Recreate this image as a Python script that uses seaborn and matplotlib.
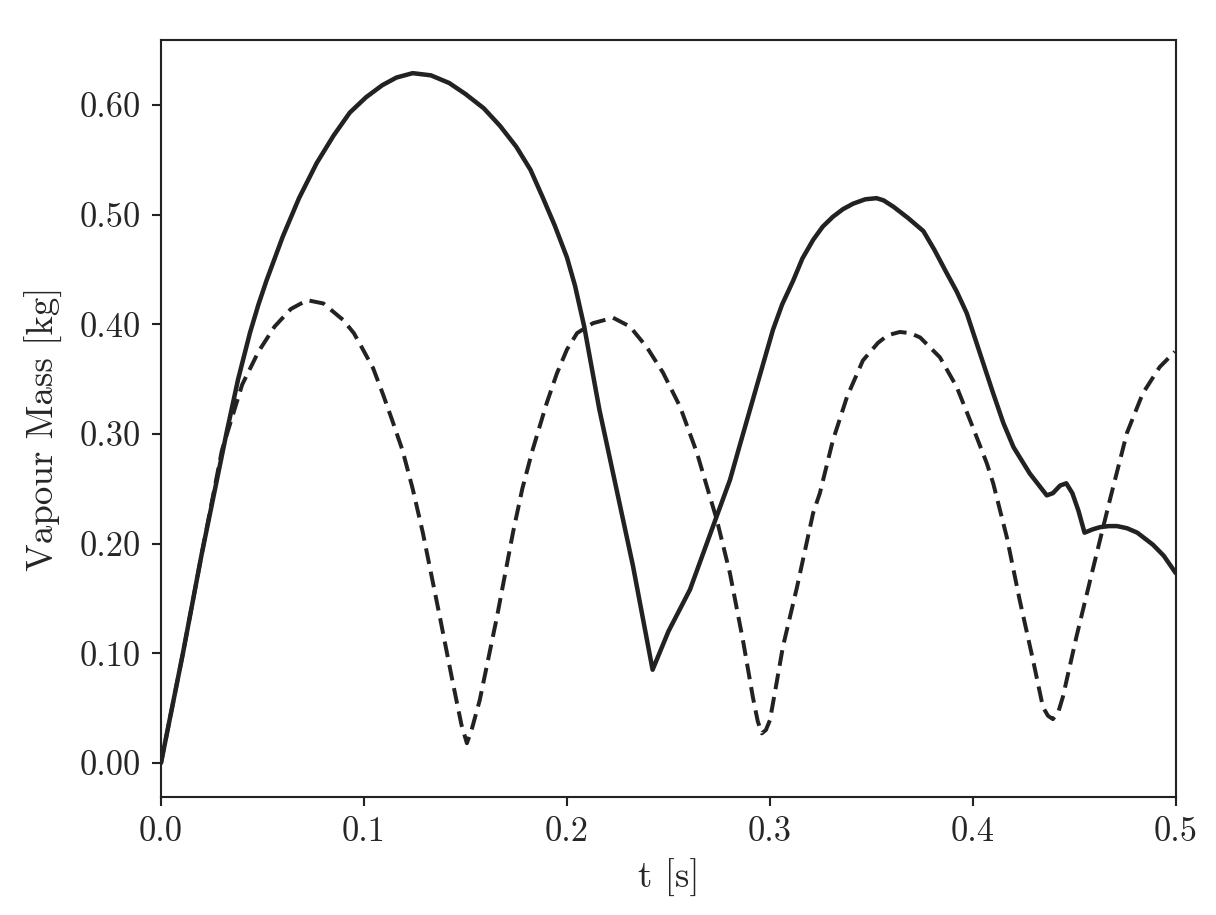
import numpy as np
import pandas as pd
import matplotlib
matplotlib.use("Agg")
import matplotlib.pyplot as plt
import seaborn as sns

# Solid curve (vapour mass, case A)
t_solid = [0.0, 0.0108, 0.02, 0.0324, 0.038, 0.0438, 0.048, 0.052, 0.060,
           0.068, 0.0767, 0.085, 0.093, 0.101, 0.109, 0.116, 0.124, 0.133,
           0.142, 0.150, 0.159, 0.167, 0.175, 0.182, 0.188, 0.194, 0.200,
           0.204, 0.2085, 0.216, 0.226, 0.2325, 0.2422, 0.250, 0.2606, 0.2737,
           0.2803, 0.2852, 0.2934, 0.3015, 0.306, 0.3115, 0.316, 0.3213,
           0.326, 0.331, 0.336, 0.341, 0.347, 0.3525, 0.356, 0.361, 0.368,
           0.3756, 0.381, 0.387, 0.392, 0.397, 0.4034, 0.41, 0.415, 0.42,
           0.428, 0.4364, 0.4394, 0.443, 0.446, 0.449, 0.452, 0.455, 0.459,
           0.4626, 0.467, 0.471, 0.476, 0.481, 0.4887, 0.494, 0.5]
m_solid = [0.0, 0.10, 0.19, 0.302, 0.35, 0.392, 0.418, 0.44, 0.48,
           0.515, 0.547, 0.572, 0.593, 0.607, 0.618, 0.625, 0.629, 0.627,
           0.62, 0.61, 0.597, 0.581, 0.562, 0.541, 0.516, 0.49, 0.461,
           0.435, 0.398, 0.322, 0.236, 0.18, 0.085, 0.12, 0.158, 0.2246,
           0.258, 0.29, 0.343, 0.395, 0.418, 0.44, 0.46, 0.477,
           0.489, 0.498, 0.505, 0.510, 0.514, 0.515, 0.513, 0.507, 0.497,
           0.485, 0.468, 0.447, 0.43, 0.41, 0.374, 0.337, 0.31, 0.288,
           0.264, 0.244, 0.246, 0.253, 0.255, 0.246, 0.23, 0.21, 0.213,
           0.215, 0.216, 0.216, 0.214, 0.21, 0.199, 0.189, 0.173]

# Dashed curve (vapour mass, case B)
t_dash = [0.0, 0.0108, 0.02, 0.03, 0.04, 0.048, 0.056, 0.064, 0.072, 0.080,
          0.0897, 0.095, 0.0995, 0.1045, 0.1094, 0.114, 0.119, 0.124, 0.129,
          0.1374, 0.1438, 0.148, 0.1507, 0.153, 0.157, 0.1655, 0.1734, 0.178,
          0.183, 0.190, 0.195, 0.200, 0.205, 0.2128, 0.2227, 0.231, 0.2394,
          0.2473, 0.2557, 0.264, 0.2704, 0.2738, 0.2803, 0.2867, 0.2916,
          0.294, 0.296, 0.298, 0.300, 0.303, 0.3064, 0.3133, 0.3213, 0.3246,
          0.331, 0.338, 0.3458, 0.3532, 0.358, 0.364, 0.369, 0.374, 0.3837,
          0.392, 0.400, 0.4069, 0.41, 0.4167, 0.423, 0.4296, 0.4345, 0.437,
          0.4394, 0.442, 0.4443, 0.451, 0.459, 0.4675, 0.4759, 0.4837, 0.492,
          0.4995]
m_dash = [0.0, 0.10, 0.19, 0.285, 0.345, 0.375, 0.398, 0.414, 0.422, 0.419,
          0.404, 0.392, 0.377, 0.36, 0.336, 0.312, 0.285, 0.25, 0.21,
          0.133, 0.073, 0.035, 0.018, 0.03, 0.057, 0.133, 0.21, 0.25,
          0.285, 0.328, 0.355, 0.377, 0.392, 0.401, 0.406, 0.398, 0.379,
          0.356, 0.325, 0.283, 0.243, 0.222, 0.173, 0.112, 0.06,
          0.038, 0.027, 0.03, 0.039, 0.07, 0.106, 0.16, 0.228, 0.246,
          0.294, 0.334, 0.367, 0.383, 0.39, 0.393, 0.392, 0.388, 0.37,
          0.343, 0.306, 0.273, 0.255, 0.206, 0.149, 0.094, 0.051, 0.043,
          0.040, 0.046, 0.06, 0.115, 0.176, 0.24, 0.301, 0.337, 0.361,
          0.375]

x_ticks = [0.0, 0.1, 0.2, 0.3, 0.4, 0.5]
y_ticks = [0.0, 0.1, 0.2, 0.3, 0.4, 0.5, 0.6]

sns.set_style("ticks")
plt.rcParams["font.family"] = ["cmr10", "DejaVu Serif"]
plt.rcParams["axes.formatter.use_mathtext"] = True
plt.rcParams["axes.unicode_minus"] = False

df_solid = pd.DataFrame({"t": t_solid, "m": m_solid})
df_dash = pd.DataFrame({"t": t_dash, "m": m_dash})

fig = plt.figure(figsize=(1216 / 190, 915 / 190), dpi=190)
ax = fig.add_axes([0.1324, 0.129, 0.8346, 0.827])

line_color = "#222222"
sns.lineplot(data=df_solid, x="t", y="m", ax=ax, color=line_color,
             linewidth=1.7, sort=False)
sns.lineplot(data=df_dash, x="t", y="m", ax=ax, color=line_color,
             linewidth=1.5, linestyle="--", sort=False)
ax.lines[-1].set_dashes([4, 2])
for ln in ax.lines:
    ln.set_solid_joinstyle("round")
    ln.set_dash_joinstyle("round")

ax.set_xlim(0.0, 0.5)
ax.set_ylim(-0.031, 0.659)
ax.set_xticks(x_ticks)
ax.set_xticklabels([f"{v:.1f}" for v in x_ticks])
ax.set_yticks(y_ticks)
ax.set_yticklabels([f"{v:.2f}" for v in y_ticks])

ax.tick_params(axis="both", labelsize=13, length=3.5, width=0.8,
               color=line_color, pad=4)
for sp in ax.spines.values():
    sp.set_visible(True)
    sp.set_linewidth(0.8)
    sp.set_color(line_color)

ax.set_xlabel("t [s]", fontsize=14, labelpad=4)
ax.set_ylabel("Vapour Mass [kg]", fontsize=14)
ax.yaxis.set_label_coords(-0.097, 0.487)

fig.savefig("out.png", dpi=190)
